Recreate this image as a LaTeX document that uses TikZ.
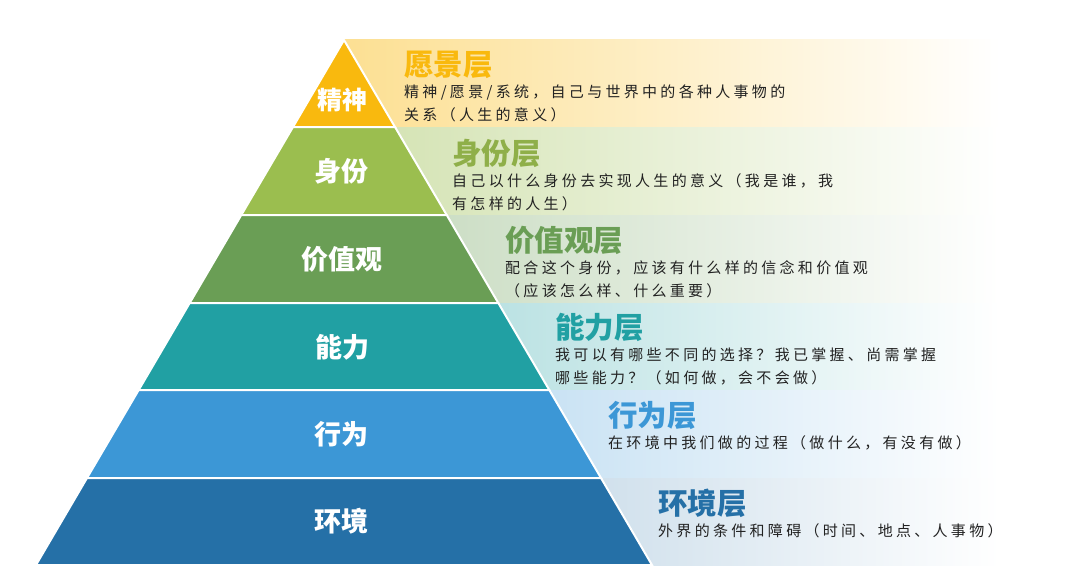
\documentclass[tikz,border=0pt]{standalone}
\usepackage{fontspec}
\setmainfont{Noto Sans CJK SC}
\newfontfamily\descfont{Noto Sans CJK SC}[LetterSpace=22]
\usetikzlibrary{positioning}

\definecolor{visioncol}{HTML}{F9B90E}
\definecolor{identcol}{HTML}{9BBE4F}
\definecolor{valuecol}{HTML}{6A9E55}
\definecolor{abilcol}{HTML}{21A0A3}
\definecolor{behavcol}{HTML}{3C97D6}
\definecolor{envcol}{HTML}{2570A7}
\definecolor{desccol}{HTML}{222222}

\begin{document}
\begin{tikzpicture}[
			x=1pt, y=-1pt,
			layer/.style={draw=white, line width=2pt, line join=miter},
			tier/.style={font=\fontsize{27}{27}\selectfont\bfseries, text=white, inner sep=0pt},
			heading/.style={font=\fontsize{29.5}{29.5}\selectfont\bfseries, inner sep=0pt, anchor=west},
			desc/.style={font=\descfont\fontsize{15}{23}\selectfont, text=desccol, align=left, inner sep=0pt}
			]
			\useasboundingbox (0,0) rectangle (1080,578);
			
			% Corners of the pyramid
			\coordinate (T) at (344,40);
			\coordinate (L1) at (293,127);   \coordinate (R1) at (395,127);
			\coordinate (L2) at (241.3,215); \coordinate (R2) at (446.7,215);
			\coordinate (L3) at (189.7,303); \coordinate (R3) at (498.3,303);
			\coordinate (L4) at (138.7,390); \coordinate (R4) at (549.3,390);
			\coordinate (L5) at (87,478);    \coordinate (R5) at (601,478);
			\coordinate (L6) at (36,565);    \coordinate (R6) at (652,565);
			
			% Faded bands behind the texts
			\shade[left color=visioncol!45!white, right color=white] (344,40) rectangle (1000,127);
			\shade[left color=identcol!45!white, right color=white] (344,127) rectangle (1000,215);
			\shade[left color=valuecol!40!white, right color=white] (344,215) rectangle (1000,303);
			\shade[left color=abilcol!40!white, right color=white] (344,303) rectangle (1000,390);
			\shade[left color=behavcol!40!white, right color=white] (344,390) rectangle (1000,478);
			\shade[left color=envcol!35!white, right color=white] (344,478) rectangle (1000,565);
			
			% Layers
			\filldraw[layer, fill=visioncol] (T) -- (R1) -- (L1) -- cycle;
			\filldraw[layer, fill=identcol] (L1) -- (R1) -- (R2) -- (L2) -- cycle;
			\filldraw[layer, fill=valuecol] (L2) -- (R2) -- (R3) -- (L3) -- cycle;
			\filldraw[layer, fill=abilcol] (L3) -- (R3) -- (R4) -- (L4) -- cycle;
			\filldraw[layer, fill=behavcol] (L4) -- (R4) -- (R5) -- (L5) -- cycle;
			\filldraw[layer, fill=envcol] (L5) -- (R5) -- (R6) -- (L6) -- cycle;
			
			% Layer names
			\node[tier, font=\fontsize{25}{25}\selectfont\bfseries] (vision) at (342,100) {精神};
			\node[tier] (ident) at (341,171) {身份};
			\node[tier] (value) at (342,259) {价值观};
			\node[tier] (abil) at (342,347) {能力};
			\node[tier] (behav) at (341,434) {行为};
			\node[tier] (env) at (341,521) {环境};
			
			% Headings and descriptions
			\node[heading, text=visioncol] (visionhead) at (404,65) {愿景层};
			\node[desc, below=6pt of visionhead.south west, anchor=north west] (visiondesc)
				{精神/愿景/系统，自己与世界中的各种人事物的\\关系（人生的意义）};
			
			\node[heading, text=identcol!92!black] (identhead) at (452,153) {身份层};
			\node[desc, below=6pt of identhead.south west, anchor=north west] (identdesc)
				{自己以什么身份去实现人生的意义（我是谁，我\\有怎样的人生）};
			
			\node[heading, text=valuecol] (valuehead) at (505,240) {价值观层};
			\node[desc, below=6pt of valuehead.south west, anchor=north west] (valuedesc)
				{配合这个身份，应该有什么样的信念和价值观\\（应该怎么样、什么重要）};
			
			\node[heading, text=abilcol] (abilhead) at (555,327) {能力层};
			\node[desc, below=6pt of abilhead.south west, anchor=north west] (abildesc)
				{我可以有哪些不同的选择？我已掌握、尚需掌握\\哪些能力？（如何做，会不会做）};
			
			\node[heading, text=behavcol] (behavhead) at (608,415) {行为层};
			\node[desc, below=6pt of behavhead.south west, anchor=north west] (behavdesc)
				{在环境中我们做的过程（做什么，有没有做）};
			
			\node[heading, text=envcol] (envhead) at (658,503) {环境层};
			\node[desc, below=6pt of envhead.south west, anchor=north west] (envdesc)
				{外界的条件和障碍（时间、地点、人事物）};
		\end{tikzpicture}
\end{document}
